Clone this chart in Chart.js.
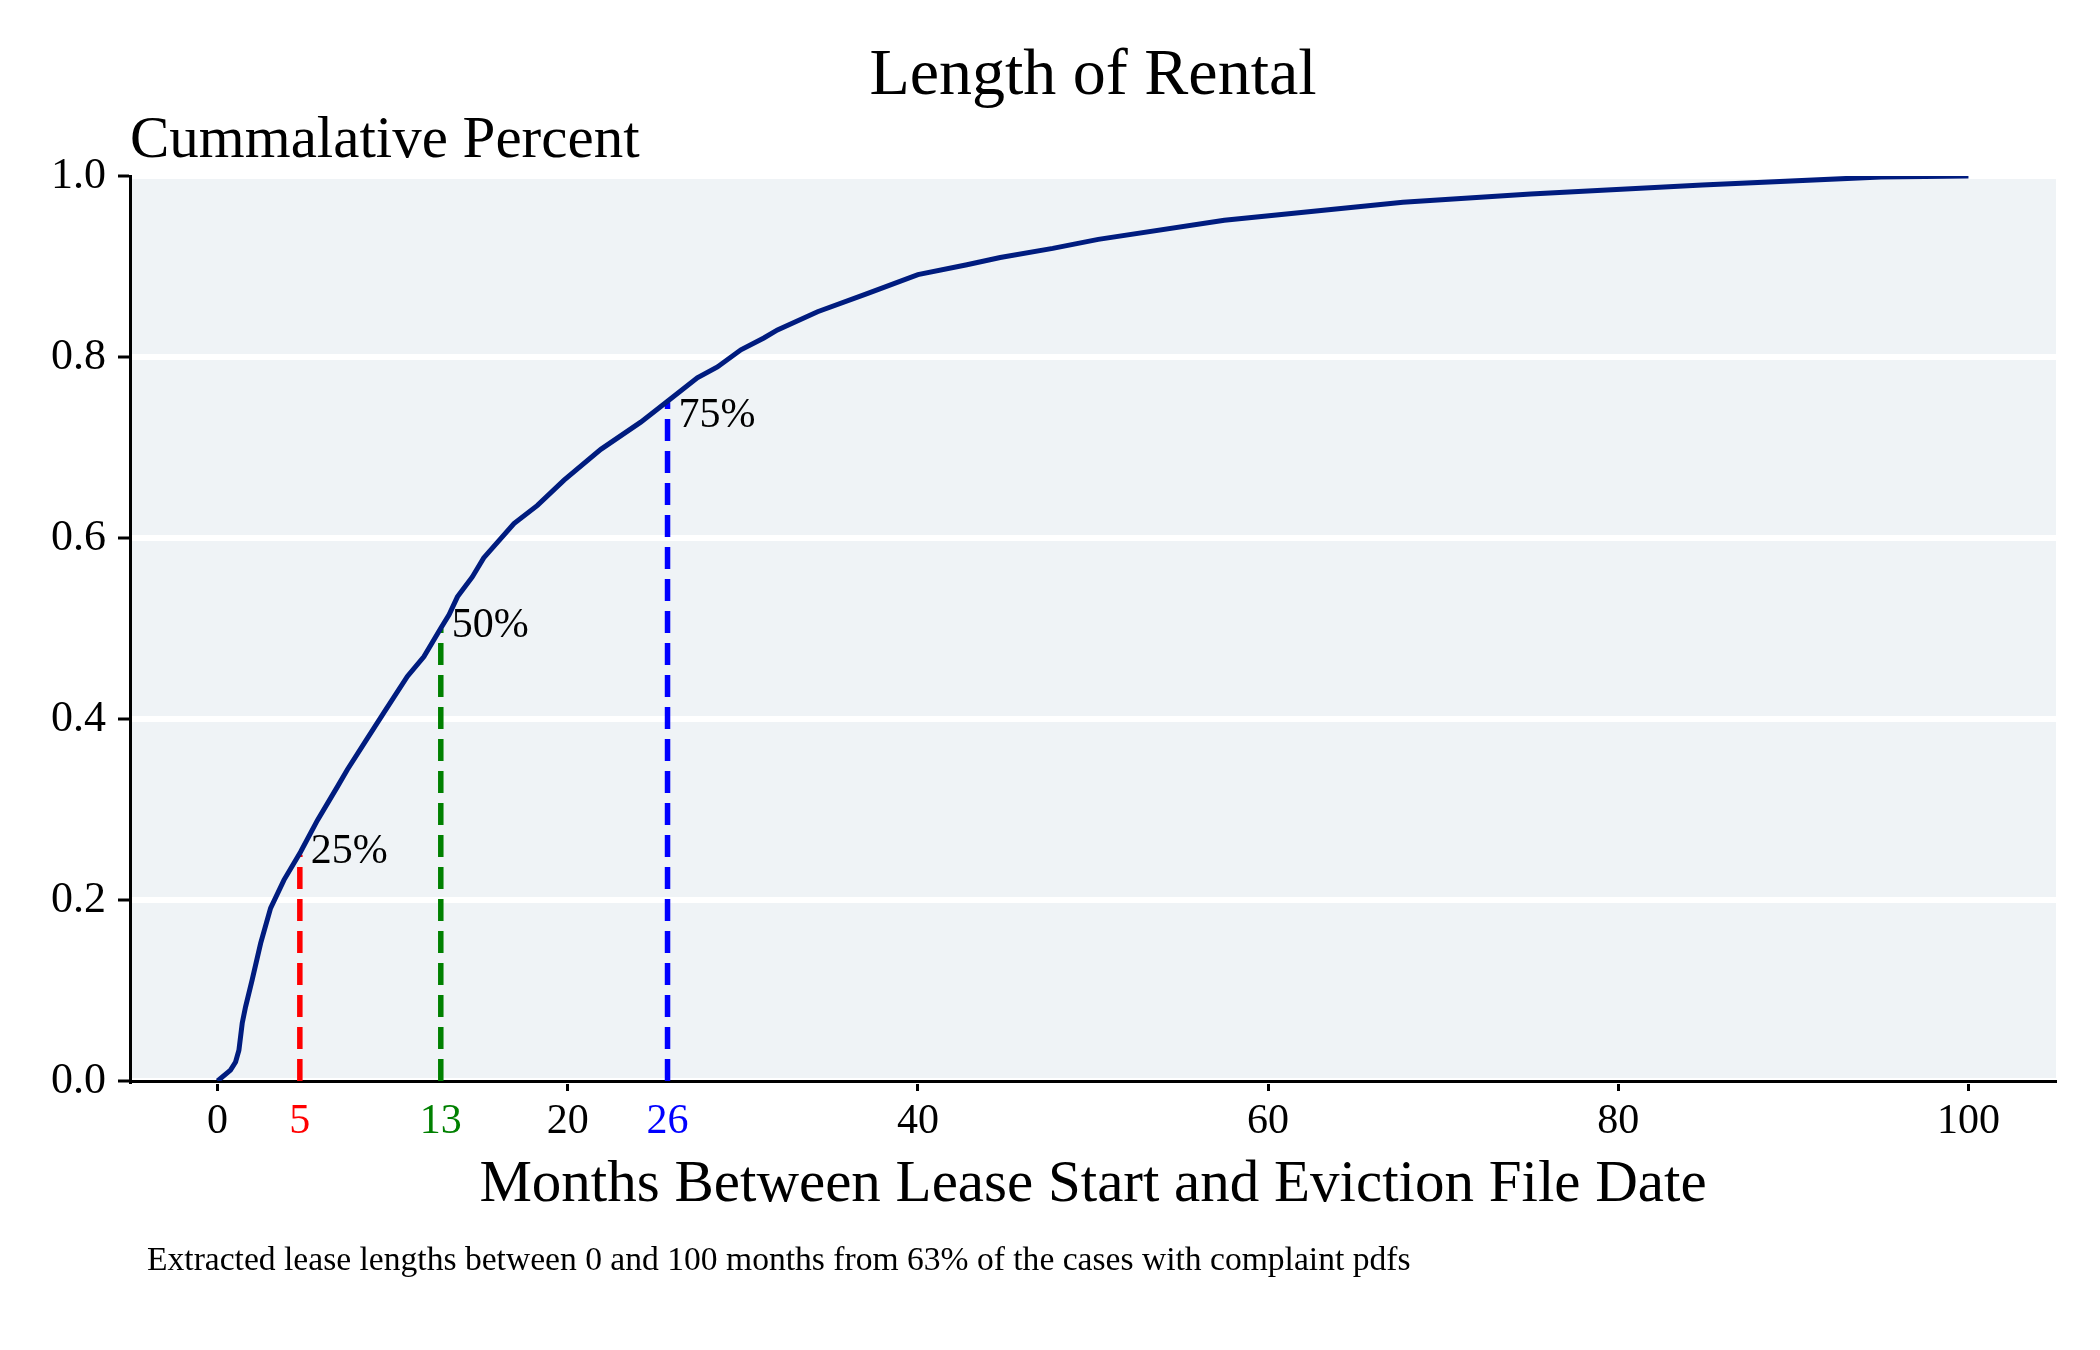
<!DOCTYPE html>
<html>
<head>
<meta charset="utf-8">
<script src="https://cdn.jsdelivr.net/npm/chart.js@4.4.1/dist/chart.umd.min.js"></script>
<style>
  html, body { margin: 0; padding: 0; background: #ffffff; }
  #wrap { width: 2100px; height: 1350px; }
</style>
</head>
<body>
<div id="wrap"><canvas id="rentalChart" width="2100" height="1350"></canvas></div>
<script>
// cumulative distribution of lease length (months)
const months = [0, 0.74, 1.03, 1.22, 1.41, 1.6, 1.98, 2.46, 3.03, 3.79, 4.74, 5.7, 6.84, 7.41, 8.5, 9.5,
  10.84, 11.79, 12.74, 13.22, 13.7, 14.55, 15.2, 16.93, 18.27, 19.79, 21.89, 24.17, 25.7, 27.4, 28.55,
  29.89, 31.2, 31.98, 34.27, 37.1, 40.0, 42.8, 44.7, 47.7, 50.3, 57.5, 67.7, 75, 84.8, 95.0, 100];
const cumPct = [0, 0.012, 0.021, 0.034, 0.064, 0.082, 0.112, 0.152, 0.191, 0.222, 0.253, 0.288, 0.325, 0.344, 0.377, 0.407,
  0.447, 0.469, 0.500, 0.515, 0.535, 0.557, 0.578, 0.616, 0.636, 0.664, 0.698, 0.728, 0.751, 0.777, 0.789,
  0.808, 0.821, 0.830, 0.850, 0.870, 0.891, 0.902, 0.910, 0.920, 0.930, 0.951, 0.971, 0.980, 0.990, 0.999, 1.0];

// quartile markers
const quartMonths = [4.7, 12.75, 25.7];
const quartLevels = [0.25, 0.5, 0.75];
const quartText = ['25%', '50%', '75%'];
const quartLabelY = [0.241, 0.491, 0.723];
const quartColors = ['#ff0000', '#008000', '#0000ff'];

const xTicks = [0, 20, 40, 60, 80, 100];
const yTicks = [0, 0.2, 0.4, 0.6, 0.8, 1.0];

const FONT = '"Liberation Serif", "Times New Roman", serif';

const curve = {
  data: months.map((m, i) => ({ x: m, y: cumPct[i] })),
  borderColor: '#001c7f',
  borderWidth: 5,
  pointRadius: 0,
  tension: 0
};

const quartSets = quartMonths.map((q, i) => ({
  data: [{ x: q, y: 0 }, { x: q, y: quartLevels[i] }],
  borderColor: quartColors[i],
  borderWidth: 5.5,
  borderDash: [22, 10],
  pointRadius: 0
}));

function quartIndex(v) {
  return quartMonths.findIndex(q => Math.abs(q - v) < 1e-6);
}

const decor = {
  id: 'decor',
  beforeDraw(chart) {
    const { ctx, chartArea: a } = chart;
    ctx.save();
    ctx.fillStyle = '#ffffff';
    ctx.fillRect(0, 0, chart.width, chart.height);
    ctx.fillStyle = '#eff3f6';
    ctx.fillRect(a.left, a.top, a.right - a.left, a.bottom - a.top);
    ctx.restore();
  },
  afterDraw(chart) {
    const { ctx, chartArea: a, scales } = chart;
    const mid = (a.left + a.right) / 2;
    ctx.save();
    ctx.fillStyle = '#000000';
    ctx.textBaseline = 'alphabetic';

    ctx.textAlign = 'center';
    ctx.font = '66px ' + FONT;
    ctx.fillText('Length of Rental', mid, 94);

    ctx.textAlign = 'left';
    ctx.font = '59px ' + FONT;
    ctx.fillText('Cummalative Percent', a.left, 157);

    ctx.textAlign = 'center';
    ctx.fillText('Months Between Lease Start and Eviction File Date', mid, 1201);

    ctx.textAlign = 'left';
    ctx.font = '33.6px ' + FONT;
    ctx.fillText('Extracted lease lengths between 0 and 100 months from 63% of the cases with complaint pdfs', 147, 1270);

    ctx.font = '42px ' + FONT;
    quartMonths.forEach((q, i) => {
      const px = scales.x.getPixelForValue(q) + 11;
      const py = scales.y.getPixelForValue(quartLabelY[i]);
      ctx.fillText(quartText[i], px, py);
    });
    ctx.restore();
  }
};

new Chart(document.getElementById('rentalChart'), {
  type: 'line',
  data: { datasets: [curve, ...quartSets] },
  options: {
    responsive: false,
    animation: false,
    devicePixelRatio: 1,
    layout: { padding: { left: 0, top: 176, right: 44, bottom: 209 } },
    plugins: { legend: { display: false }, tooltip: { enabled: false }, title: { display: false } },
    scales: {
      x: {
        type: 'linear',
        min: -5,
        max: 105,
        afterFit(scale) { scale.height = 60; },
        afterBuildTicks(scale) {
          scale.ticks = [...xTicks, ...quartMonths].sort((a, b) => a - b).map(v => ({ value: v }));
        },
        ticks: {
          autoSkip: false,
          maxRotation: 0,
          padding: 6,
          font: { family: FONT, size: 42 },
          color: ctx => {
            const k = quartIndex(ctx.tick.value);
            return k >= 0 ? quartColors[k] : '#000000';
          },
          callback: v => String(Math.round(v))
        },
        grid: {
          drawOnChartArea: false,
          drawTicks: true,
          tickLength: 10,
          tickWidth: 3,
          tickColor: ctx => quartIndex(ctx.tick.value) >= 0 ? 'rgba(0,0,0,0)' : '#000000'
        },
        border: { color: '#000000', width: 3 }
      },
      y: {
        type: 'linear',
        min: 0,
        max: 1,
        afterFit(scale) { scale.width = 130; },
        afterBuildTicks(scale) {
          scale.ticks = yTicks.map(v => ({ value: v }));
        },
        ticks: {
          padding: 12,
          font: { family: FONT, size: 44 },
          color: '#000000',
          callback: v => v.toFixed(1)
        },
        grid: {
          color: '#ffffff',
          lineWidth: 6,
          drawTicks: true,
          tickLength: 12,
          tickWidth: 3,
          tickColor: '#000000'
        },
        border: { color: '#000000', width: 3 }
      }
    }
  },
  plugins: [decor]
});
</script>
</body>
</html>
